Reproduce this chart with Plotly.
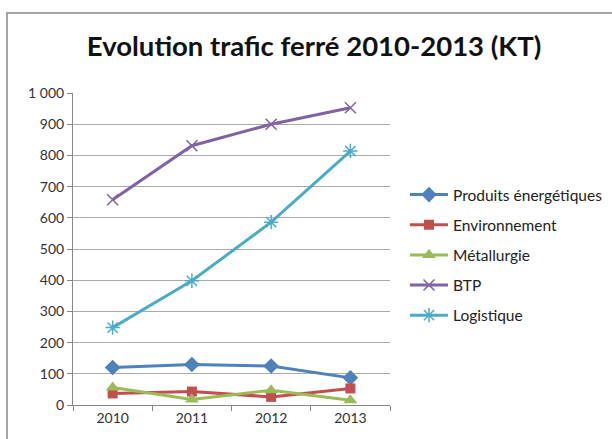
import plotly.graph_objects as go

years = ["2010", "2011", "2012", "2013"]
produits = [120, 130, 125, 87]
environnement = [37, 43, 26, 53]
metallurgie = [56, 18, 47, 15]
btp = [658, 831, 900, 953]
logistique = [248, 398, 586, 814]

series = [
    ("Produits énergétiques", produits, "#4F81BD", "diamond", 12),
    ("Environnement", environnement, "#C0504D", "square", 10),
    ("Métallurgie", metallurgie, "#9BBB59", "triangle-up", 12),
    ("BTP", btp, "#8064A2", "x-thin", 11),
    ("Logistique", logistique, "#4BACC6", "asterisk", 12),
]

fig = go.Figure()
for i, (name, vals, color, sym, size) in enumerate(series):
    open_sym = sym in ("x-thin", "asterisk")
    fig.add_trace(go.Scatter(
        x=years, y=vals, name=name, mode="lines+markers",
        legendgroup=f"g{i}",
        line=dict(color=color, width=3),
        marker=dict(symbol=sym, size=size, color=color,
                    line=dict(color=color, width=1.5 if open_sym else 0)),
    ))

W, H = 612, 439
L, R, T, B = 73, 222, 93, 34
pw, ph = W - L - R, H - T - B

def px(x):
    return (x - L) / pw

def py(y):
    return (H - B - y) / ph

fig.update_layout(
    width=W, height=H,
    margin=dict(l=L, r=R, t=T, b=B, autoexpand=False),
    paper_bgcolor="white", plot_bgcolor="white",
    separators=", ",
    font=dict(family="Lato, Open Sans, sans-serif", color="#333333", size=14),
    title=dict(text="<b>Evolu\u200ction trafic ferré 2010-2013 (KT)</b>",
               x=(314 - L) / pw, xref="paper", xanchor="center",
               y=1 - 46 / H, yanchor="middle",
               font=dict(size=27.5, color="#111111", family="Lato, Open Sans, sans-serif")),
    showlegend=True,
    legend=dict(x=px(405), y=py(178), xanchor="left", yanchor="top",
                font=dict(size=15.5, color="#222222"), itemwidth=38,
                tracegroupgap=7, bgcolor="rgba(0,0,0,0)"),
    xaxis=dict(type="category", range=[-0.5, 3.5], showgrid=False,
               showline=True, linecolor="#888888", linewidth=1,
               ticks="outside", tickson="boundaries", ticklen=5, tickcolor="#888888",
               tickfont=dict(size=14, color="#333333"), fixedrange=True),
    yaxis=dict(range=[0, 1000], dtick=100, showgrid=True, gridcolor="#AAAAAA", gridwidth=1,
               showline=True, linecolor="#888888", linewidth=1,
               ticks="outside", ticklen=5, tickcolor="#888888",
               tickformat=",d", zeroline=False,
               tickfont=dict(size=14, color="#333333"), fixedrange=True),
    shapes=[dict(type="rect", xref="paper", yref="paper",
                 x0=px(7), y0=py(H + 60), x1=px(W + 60), y1=py(13),
                 line=dict(color="#888888", width=1.5), fillcolor="rgba(0,0,0,0)",
                 layer="below")],
)

fig.write_html("out.html", config={"displayModeBar": False},
               post_script="document.body.style.margin='0px';document.body.style.overflow='hidden';")
